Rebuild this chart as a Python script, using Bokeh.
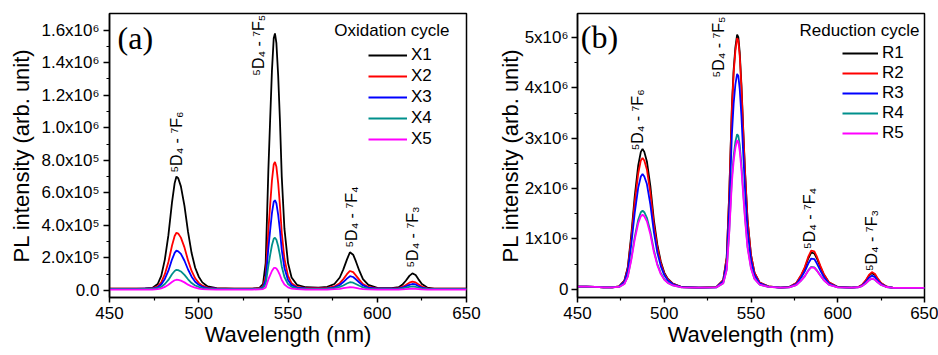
import math
from bokeh.plotting import figure
from bokeh.models import FixedTicker, Label, Legend, LegendItem, Range1d
from bokeh.layouts import row
from bokeh.embed import file_html
from bokeh.resources import INLINE
from bokeh.core.properties import value

# ---------------- data (intensity in units of 10^6 counts) ----------------
wavelength = [450, 455, 460, 465, 470, 474, 477, 479, 481, 483,
              485, 486.5, 487.5, 488.5, 490, 492, 494, 496, 498, 500,
              502, 505, 510, 520, 530, 534, 536, 537.5, 539, 540,
              541, 542, 542.7, 543.5, 544.5, 545.5, 546.5, 548, 550, 552,
              555, 560, 567, 572, 576, 579, 581, 583, 584.7, 586.5,
              588, 590, 592, 595, 600, 608, 612, 614, 616, 618,
              619.7, 621.5, 623, 625, 628, 632, 640, 650]

x1 = [0.012, 0.012, 0.012, 0.012, 0.013, 0.016, 0.04, 0.09, 0.19, 0.34,
      0.54, 0.66, 0.70, 0.69, 0.64, 0.52, 0.36, 0.23, 0.14, 0.085,
      0.05, 0.025, 0.014, 0.012, 0.012, 0.016, 0.04, 0.17, 0.74, 1.05,
      1.35, 1.55, 1.58, 1.52, 1.32, 1.04, 0.70, 0.38, 0.17, 0.08,
      0.035, 0.02, 0.018, 0.022, 0.04, 0.08, 0.13, 0.19, 0.235, 0.22,
      0.18, 0.12, 0.07, 0.035, 0.016, 0.014, 0.02, 0.035, 0.06, 0.09,
      0.105, 0.095, 0.07, 0.04, 0.018, 0.012, 0.011, 0.011]
x2 = [0.011, 0.011, 0.011, 0.011, 0.012, 0.013, 0.025, 0.05, 0.10, 0.175,
      0.275, 0.335, 0.355, 0.35, 0.325, 0.265, 0.185, 0.12, 0.075, 0.047,
      0.03, 0.018, 0.012, 0.011, 0.011, 0.013, 0.025, 0.09, 0.37, 0.525,
      0.675, 0.775, 0.79, 0.76, 0.66, 0.52, 0.355, 0.195, 0.09, 0.045,
      0.022, 0.015, 0.014, 0.016, 0.025, 0.045, 0.07, 0.10, 0.12, 0.113,
      0.093, 0.065, 0.04, 0.022, 0.013, 0.012, 0.015, 0.022, 0.034, 0.048,
      0.055, 0.05, 0.038, 0.024, 0.013, 0.011, 0.011, 0.011]
x3 = [0.010, 0.010, 0.010, 0.010, 0.011, 0.011, 0.02, 0.037, 0.071, 0.122,
      0.19, 0.231, 0.245, 0.241, 0.225, 0.183, 0.129, 0.085, 0.054, 0.035,
      0.023, 0.014, 0.011, 0.010, 0.010, 0.012, 0.02, 0.065, 0.26, 0.37,
      0.475, 0.545, 0.555, 0.535, 0.465, 0.368, 0.25, 0.138, 0.065, 0.033,
      0.018, 0.013, 0.012, 0.013, 0.019, 0.034, 0.052, 0.073, 0.088, 0.083,
      0.069, 0.049, 0.031, 0.018, 0.011, 0.011, 0.013, 0.017, 0.025, 0.035,
      0.04, 0.037, 0.028, 0.018, 0.011, 0.010, 0.010, 0.010]
x4 = [0.009, 0.009, 0.009, 0.009, 0.010, 0.010, 0.014, 0.022, 0.04, 0.065,
      0.10, 0.12, 0.127, 0.125, 0.117, 0.096, 0.069, 0.046, 0.031, 0.022,
      0.015, 0.011, 0.009, 0.009, 0.009, 0.010, 0.015, 0.04, 0.152, 0.217,
      0.278, 0.318, 0.324, 0.312, 0.272, 0.216, 0.148, 0.083, 0.04, 0.022,
      0.013, 0.010, 0.010, 0.011, 0.014, 0.022, 0.031, 0.043, 0.051, 0.048,
      0.040, 0.029, 0.019, 0.012, 0.009, 0.009, 0.010, 0.013, 0.017, 0.022,
      0.025, 0.023, 0.018, 0.013, 0.010, 0.009, 0.009, 0.009]
x5 = [0.006, 0.006, 0.006, 0.006, 0.006, 0.006, 0.008, 0.013, 0.022, 0.035,
      0.052, 0.063, 0.066, 0.065, 0.061, 0.05, 0.036, 0.025, 0.017, 0.012,
      0.009, 0.007, 0.006, 0.006, 0.006, 0.007, 0.009, 0.019, 0.068, 0.094,
      0.12, 0.137, 0.14, 0.135, 0.118, 0.094, 0.065, 0.037, 0.019, 0.012,
      0.008, 0.006, 0.006, 0.006, 0.008, 0.010, 0.014, 0.018, 0.02, 0.019,
      0.016, 0.012, 0.009, 0.007, 0.006, 0.006, 0.006, 0.007, 0.008, 0.010,
      0.011, 0.010, 0.009, 0.007, 0.006, 0.006, 0.006, 0.006]

r1 = [0.05, 0.05, 0.045, 0.035, 0.035, 0.058, 0.17, 0.44, 1.08, 1.85,
      2.46, 2.73, 2.79, 2.73, 2.54, 2.05, 1.38, 0.89, 0.55, 0.33,
      0.21, 0.11, 0.044, 0.03, 0.04, 0.18, 0.63, 1.94, 3.65, 4.36,
      4.81, 5.06, 5.01, 4.71, 4.05, 3.20, 2.39, 1.39, 0.68, 0.33,
      0.13, 0.055, 0.03, 0.044, 0.115, 0.28, 0.42, 0.61, 0.73, 0.71,
      0.61, 0.44, 0.29, 0.13, 0.044, 0.03, 0.045, 0.082, 0.16, 0.27,
      0.32, 0.285, 0.20, 0.117, 0.053, 0.028, 0.025, 0.025]
r2 = [0.05, 0.05, 0.045, 0.035, 0.035, 0.056, 0.16, 0.417, 1.01, 1.73,
      2.30, 2.56, 2.61, 2.56, 2.38, 1.91, 1.29, 0.83, 0.52, 0.31,
      0.198, 0.107, 0.043, 0.03, 0.04, 0.18, 0.625, 1.91, 3.60, 4.30,
      4.74, 4.99, 4.94, 4.64, 4.0, 3.15, 2.36, 1.37, 0.675, 0.33,
      0.13, 0.055, 0.03, 0.045, 0.12, 0.29, 0.44, 0.645, 0.765, 0.75,
      0.645, 0.465, 0.30, 0.135, 0.045, 0.03, 0.046, 0.086, 0.17, 0.284,
      0.34, 0.303, 0.216, 0.123, 0.055, 0.028, 0.025, 0.025]
r3 = [0.05, 0.05, 0.045, 0.035, 0.035, 0.053, 0.143, 0.37, 0.89, 1.52,
      2.02, 2.24, 2.29, 2.24, 2.09, 1.68, 1.14, 0.73, 0.46, 0.28,
      0.177, 0.098, 0.041, 0.03, 0.038, 0.158, 0.54, 1.65, 3.09, 3.69,
      4.07, 4.28, 4.24, 3.98, 3.43, 2.71, 2.03, 1.18, 0.58, 0.285,
      0.115, 0.051, 0.03, 0.042, 0.10, 0.237, 0.355, 0.51, 0.61, 0.60,
      0.51, 0.37, 0.242, 0.113, 0.042, 0.03, 0.042, 0.073, 0.138, 0.227,
      0.27, 0.241, 0.174, 0.102, 0.049, 0.028, 0.025, 0.025]
r4 = [0.05, 0.05, 0.045, 0.035, 0.035, 0.045, 0.107, 0.26, 0.61, 1.04,
      1.38, 1.53, 1.56, 1.53, 1.42, 1.15, 0.78, 0.50, 0.32, 0.198,
      0.13, 0.076, 0.038, 0.03, 0.036, 0.12, 0.396, 1.19, 2.23, 2.65,
      2.93, 3.08, 3.05, 2.87, 2.47, 1.95, 1.46, 0.85, 0.43, 0.21,
      0.091, 0.045, 0.03, 0.038, 0.08, 0.177, 0.26, 0.374, 0.446, 0.433,
      0.374, 0.274, 0.18, 0.089, 0.038, 0.03, 0.039, 0.062, 0.111, 0.178,
      0.21, 0.188, 0.138, 0.084, 0.044, 0.028, 0.025, 0.025]
r5 = [0.05, 0.05, 0.045, 0.035, 0.035, 0.045, 0.103, 0.25, 0.58, 0.99,
      1.31, 1.45, 1.48, 1.45, 1.35, 1.09, 0.74, 0.48, 0.30, 0.19,
      0.124, 0.074, 0.037, 0.03, 0.036, 0.118, 0.38, 1.14, 2.14, 2.55,
      2.81, 2.96, 2.93, 2.75, 2.37, 1.88, 1.41, 0.82, 0.41, 0.206,
      0.089, 0.045, 0.03, 0.038, 0.079, 0.174, 0.256, 0.366, 0.436, 0.424,
      0.366, 0.268, 0.178, 0.087, 0.038, 0.03, 0.039, 0.062, 0.111, 0.178,
      0.21, 0.188, 0.138, 0.084, 0.044, 0.028, 0.025, 0.025]

series_names_a = ["X1", "X2", "X3", "X4", "X5"]
series_names_b = ["R1", "R2", "R3", "R4", "R5"]
series_colors = ["#000000", "#FF0000", "#0000FF", "#00908C", "#FF00FF"]

transition_labels = ["⁵D₄ - ⁷F₆", "⁵D₄ - ⁷F₅", "⁵D₄ - ⁷F₄", "⁵D₄ - ⁷F₃"]

x_ticks = [450, 500, 550, 600, 650]
x_minor = [475, 525, 575, 625]
ya_ticks = [0, 0.2, 0.4, 0.6, 0.8, 1.0, 1.2, 1.4, 1.6]
ya_minor = [0.1, 0.3, 0.5, 0.7, 0.9, 1.1, 1.3, 1.5]
ya_labels = ["0.0", "2.0x10⁵", "4.0x10⁵", "6.0x10⁵", "8.0x10⁵",
             "1.0x10⁶", "1.2x10⁶", "1.4x10⁶", "1.6x10⁶"]
yb_ticks = [0, 1, 2, 3, 4, 5]
yb_minor = [0.5, 1.5, 2.5, 3.5, 4.5]
yb_labels = ["0", "1x10⁶", "2x10⁶", "3x10⁶", "4x10⁶", "5x10⁶"]

X_TITLE = "Wavelength (nm)"
Y_TITLE = "PL intensity (arb. unit)"
FONT = "Liberation Sans"
H = 355
MBB = 58


def make_panel(width, mbl, mbr, yrange, yticks, yminor, ylabels, y_ls, y_als):
    p = figure(width=width, height=H, output_backend="svg", toolbar_location=None,
               x_range=Range1d(450, 650), y_range=Range1d(*yrange),
               min_border_left=mbl, min_border_right=mbr,
               min_border_top=13, min_border_bottom=MBB)
    p.xgrid.visible = False
    p.ygrid.visible = False
    p.outline_line_color = "black"
    p.outline_line_width = 1.5
    p.outline_line_alpha = 1.0
    p.background_fill_color = "white"
    p.border_fill_color = "white"
    p.xaxis.ticker = FixedTicker(ticks=x_ticks, minor_ticks=x_minor)
    p.yaxis.ticker = FixedTicker(ticks=yticks, minor_ticks=yminor)
    p.yaxis.major_label_overrides = {t: s for t, s in zip(yticks, ylabels)}
    p.xaxis.axis_label = X_TITLE
    p.yaxis.axis_label = Y_TITLE
    for ax in (p.xaxis[0], p.yaxis[0]):
        ax.axis_line_width = 1.5
        ax.axis_line_color = "black"
        ax.major_tick_line_width = 1.5
        ax.minor_tick_line_width = 1.2
        ax.major_tick_line_color = "black"
        ax.minor_tick_line_color = "black"
        ax.major_tick_in = 0
        ax.major_tick_out = 6
        ax.minor_tick_in = 0
        ax.minor_tick_out = 3
        ax.major_label_text_font = FONT
        ax.major_label_text_font_size = "17px"
        ax.major_label_text_color = "black"
        ax.axis_label_text_font = FONT
        ax.axis_label_text_font_size = "22px"
        ax.axis_label_text_font_style = "normal"
        ax.axis_label_text_color = "black"
    p.xaxis.major_tick_out = 5
    p.xaxis.major_label_standoff = 4
    p.xaxis.axis_label_standoff = 0
    p.yaxis.major_label_standoff = y_ls
    p.yaxis.axis_label_standoff = y_als
    return p


def add_series(p, ys, names, legend_loc, glyph_w, row_h, spacing):
    items = []
    for y, name, color in zip(ys, names, series_colors):
        r = p.line(wavelength, y, line_color=color, line_width=1.8)
        items.append(LegendItem(label=name, renderers=[r]))
    legend = Legend(items=items, location=legend_loc, glyph_width=glyph_w,
                    glyph_height=row_h, label_height=row_h, spacing=spacing,
                    label_standoff=4, padding=0, margin=0,
                    border_line_alpha=0, background_fill_alpha=0,
                    label_text_font=FONT, label_text_font_size="17px",
                    label_text_color="black")
    p.add_layout(legend)


def add_texts(p, lx, ly, panel_tag, tag_xy, title, title_xy):
    p.text(x=lx, y=ly, text=transition_labels, angle=math.pi / 2,
           text_font=value(FONT), text_font_size="16px", text_color="black",
           text_align="left", text_baseline="middle")
    p.add_layout(Label(x=tag_xy[0], y=tag_xy[1], text=panel_tag,
                       text_font="Liberation Serif", text_font_size="32px",
                       text_color="black", text_baseline="middle", text_align="left"))
    p.add_layout(Label(x=title_xy[0], y=title_xy[1], text=title,
                       text_font=FONT, text_font_size="17px", text_color="black",
                       text_baseline="middle", text_align="right"))


# ---------------- panel (a) ----------------
pa = make_panel(481, 109, 15, (-0.043, 1.7025), ya_ticks, ya_minor, ya_labels, 4, 4)
add_series(pa, [x1, x2, x3, x4, x5], series_names_a, (259, 148), 39, 20, 1)
add_texts(pa, [487.3, 533.5, 585.6, 619.8], [0.725, 1.32, 0.264, 0.141],
          "(a)", (454.5, 1.55), "Oxidation cycle", (640.5, 1.598))

# ---------------- panel (b) ----------------
pb = make_panel(457, 96, 14, (-0.165, 5.481), yb_ticks, yb_minor, yb_labels, 3, -1)
add_series(pb, [r1, r2, r3, r4, r5], series_names_b, (265, 154), 36, 20, 0)
add_texts(pb, [484.6, 531.5, 583.8, 619.5], [2.76, 4.21, 0.80, 0.36],
          "(b)", (451.9, 5.02), "Reduction cycle", (647.1, 5.14))

layout = row(pa, pb)
open("out.html", "w").write(file_html(layout, INLINE))
